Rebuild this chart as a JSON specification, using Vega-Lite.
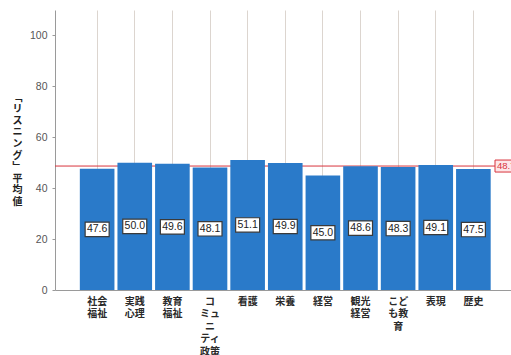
{
  "$schema": "https://vega.github.io/schema/vega-lite/v6.json",
  "autosize": "none",
  "width": 456,
  "height": 280,
  "padding": {"left": 55, "top": 10, "right": 0, "bottom": 65},
  "background": "#ffffff",
  "config": {
    "view": {"stroke": null},
    "font": "Noto Sans CJK JP"
  },
  "datasets": {
    "groups": [
      {"dept": "社会福祉", "value": 47.6},
      {"dept": "実践心理", "value": 50.0},
      {"dept": "教育福祉", "value": 49.6},
      {"dept": "コミュニティ政策", "value": 48.1},
      {"dept": "看護", "value": 51.1},
      {"dept": "栄養", "value": 49.9},
      {"dept": "経営", "value": 45.0},
      {"dept": "観光経営", "value": 48.6},
      {"dept": "こども教育", "value": 48.3},
      {"dept": "表現", "value": 49.1},
      {"dept": "歴史", "value": 47.5}
    ],
    "overall": [{"value": 48.7}]
  },
  "resolve": {"scale": {"y": "independent"}},
  "layer": [
    {
      "data": {"name": "overall"},
      "mark": {"type": "rule", "color": "#d8343c", "strokeWidth": 1},
      "encoding": {
        "y": {"field": "value", "type": "quantitative", "scale": {"domain": [0, 110]}, "axis": null}
      }
    },
    {
      "data": {"name": "groups"},
      "mark": {"type": "bar", "color": "#2a7ac9"},
      "encoding": {
        "x": {
          "field": "dept", "type": "nominal", "sort": null,
          "scale": {"paddingInner": 0.08, "paddingOuter": 0.6, "align": 0.55},
          "axis": {
            "title": null,
            "domainColor": "#9a9a9a",
            "ticks": false,
            "grid": true,
            "gridColor": "#dcd5cf",
            "labelAngle": 0,
            "labelFont": "Noto Sans CJK JP",
            "labelFontWeight": "bold",
            "labelFontSize": 10,
            "labelLineHeight": 12.5,
            "labelColor": "#2a2a2a",
            "labelBaseline": "top",
            "labelPadding": 6,
            "labelExpr": "{'社会福祉':['社会','福祉'],'実践心理':['実践','心理'],'教育福祉':['教育','福祉'],'コミュニティ政策':['コ','ミュ','ニ','ティ','政策'],'こども教育':['こど','も教','育'],'観光経営':['観光','経営']}[datum.value] || datum.value"
          }
        },
        "y": {
          "field": "value", "type": "quantitative",
          "scale": {"domain": [0, 110], "nice": false},
          "axis": {
            "values": [0, 20, 40, 60, 80, 100],
            "gridColor": "#dcd5cf",
            "domainColor": "#9a9a9a",
            "tickColor": "#9a9a9a",
            "tickSize": 3,
            "labelFont": "Liberation Sans",
            "labelFontSize": 10.5,
            "labelColor": "#555555",
            "labelPadding": 5,
            "title": ["﹁", "リ", "ス", "ニ", "ン", "グ", "﹂", "平", "均", "値"],
            "titleAngle": 0,
            "titleFont": "Noto Sans CJK JP",
            "titleFontWeight": "bold",
            "titleFontSize": 10,
            "titleLineHeight": 11.6,
            "titleColor": "#222222",
            "titleAlign": "center",
            "titleBaseline": "top",
            "titleX": -38,
            "titleY": 82
          }
        }
      }
    },
    {
      "data": {"name": "groups"},
      "mark": {"type": "point", "shape": "M-1,-0.6H1V0.6H-1Z", "size": 576, "filled": true, "fill": "#ffffff", "stroke": "#3a3a3a", "strokeWidth": 1.2, "opacity": 1},
      "encoding": {
        "x": {"field": "dept", "type": "nominal", "sort": null},
        "y": {"field": "value", "type": "quantitative", "scale": {"domain": [0, 220], "nice": false}, "axis": null}
      }
    },
    {
      "data": {"name": "groups"},
      "mark": {"type": "text", "font": "Liberation Sans", "fontSize": 10.5, "color": "#222222", "baseline": "middle", "align": "center"},
      "encoding": {
        "x": {"field": "dept", "type": "nominal", "sort": null},
        "y": {"field": "value", "type": "quantitative", "scale": {"domain": [0, 220], "nice": false}, "axis": null},
        "text": {"field": "value", "type": "quantitative", "format": ".1f"}
      }
    },
    {
      "data": {"name": "overall"},
      "mark": {"type": "point", "shape": "M-1,-0.375H0.6V0.375H-1Z", "size": 1024, "filled": true, "fill": "#fde6e8", "stroke": "#d8343c", "strokeWidth": 1, "opacity": 1},
      "encoding": {
        "x": {"value": "width"},
        "y": {"field": "value", "type": "quantitative", "scale": {"domain": [0, 110], "nice": false}, "axis": null}
      }
    },
    {
      "data": {"name": "overall"},
      "mark": {"type": "text", "font": "Liberation Sans", "fontSize": 9.5, "color": "#d8343c", "align": "left", "baseline": "middle", "dx": -14},
      "encoding": {
        "x": {"value": "width"},
        "y": {"field": "value", "type": "quantitative", "scale": {"domain": [0, 110], "nice": false}, "axis": null},
        "text": {"field": "value", "type": "quantitative", "format": ".1f"}
      }
    }
  ]
}
